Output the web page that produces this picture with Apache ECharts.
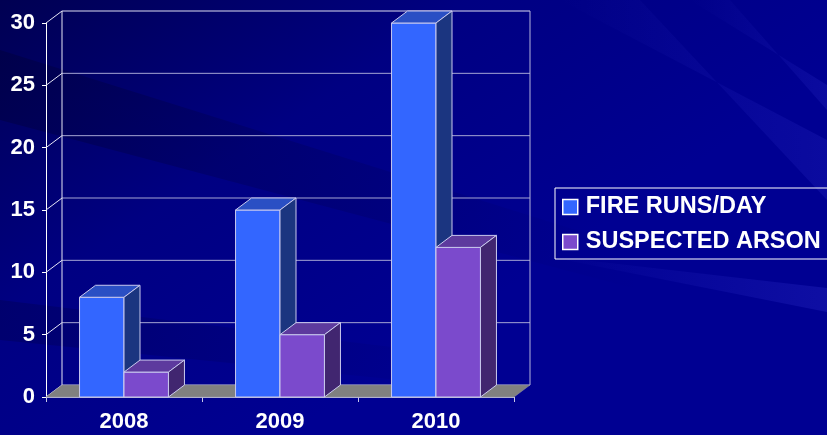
<!DOCTYPE html>
<html><head><meta charset="utf-8">
<script src="https://cdn.jsdelivr.net/npm/echarts@6/dist/echarts.min.js"></script>
<style>html,body{margin:0;padding:0;background:#00007a}#c{width:827px;height:435px}</style>
</head><body><div id="c"></div>
<script>
const categories = ['2008', '2009', '2010'];
const fireRuns = [8, 15, 30];
const arson = [2, 5, 12];
const yTicks = [0, 5, 10, 15, 20, 25, 30];
const seriesNames = ['FIRE RUNS/DAY', 'SUSPECTED ARSON'];

const DX = 16, DY = -12;
const FONT = "'Liberation Sans', Arial, sans-serif";
const faces = [
  { front: '#3366ff', top: '#2a4fc4', side: '#1b3580' },
  { front: '#7b4acc', top: '#5d3a9e', side: '#412670' }
];
const edge = '#c9c9ee';

function barRender(si) {
  return function (params, api) {
    const ci = api.value(0), v = api.value(1);
    const band = api.size([1, 0])[0];
    const w = band * 0.285;
    const c = api.coord([ci, v]);
    const b = api.coord([ci, 0]);
    const x0 = si === 0 ? c[0] - w : c[0];
    const x1 = x0 + w;
    const yt = c[1], yb = b[1];
    const f = faces[si];
    return { type: 'group', children: [
      { type: 'polygon', shape: { points: [[x0, yb], [x1, yb], [x1, yt], [x0, yt]] }, style: { fill: f.front, stroke: edge, lineWidth: 1 } },
      { type: 'polygon', shape: { points: [[x0, yt], [x1, yt], [x1 + DX, yt + DY], [x0 + DX, yt + DY]] }, style: { fill: f.top, stroke: edge, lineWidth: 1 } },
      { type: 'polygon', shape: { points: [[x1, yb], [x1 + DX, yb + DY], [x1 + DX, yt + DY], [x1, yt]] }, style: { fill: f.side, stroke: edge, lineWidth: 1 } }
    ] };
  };
}

function wallRender(params, api) {
  const v = api.value(1);
  const cs = params.coordSys;
  const xL = cs.x, xR = cs.x + cs.width;
  const y = api.coord([0, v])[1];
  const top = v === yTicks[yTicks.length - 1];
  return { type: 'group', children: [
    { type: 'line', shape: { x1: xL + DX, y1: y + DY, x2: xR + DX, y2: y + DY }, style: { stroke: top ? '#dcdcf2' : '#a4a4d4', lineWidth: 1 } },
    { type: 'line', shape: { x1: xL, y1: y, x2: xL + DX, y2: y + DY }, style: { stroke: '#e6e6f6', lineWidth: 1 } }
  ] };
}

function frameRender(params, api) {
  const cs = params.coordSys;
  const xL = cs.x, xR = cs.x + cs.width;
  const y0 = api.coord([0, yTicks[0]])[1];
  const yT = api.coord([0, yTicks[yTicks.length - 1]])[1];
  return { type: 'group', children: [
    { type: 'line', shape: { x1: xL + DX, y1: yT + DY, x2: xL + DX, y2: y0 + DY }, style: { stroke: '#e6e6f6', lineWidth: 1 } },
    { type: 'line', shape: { x1: xR + DX, y1: yT + DY, x2: xR + DX, y2: y0 + DY }, style: { stroke: '#b4b4dc', lineWidth: 1 } },
    { type: 'polygon', shape: { points: [[xL, y0], [xR, y0], [xR + DX, y0 + DY], [xL + DX, y0 + DY]] }, style: { fill: '#808080', stroke: '#9a9aa8', lineWidth: 0.5 } }
  ] };
}

const fadeR = (a) => new echarts.graphic.LinearGradient(0, 0, 1, 0, [
  { offset: 0, color: 'rgba(0,0,40,' + a + ')' }, { offset: 1, color: 'rgba(0,0,40,0)' }
]);
const fadeL = (a) => new echarts.graphic.LinearGradient(0, 0, 1, 0, [
  { offset: 0, color: 'rgba(90,90,255,0)' }, { offset: 1, color: 'rgba(90,90,255,' + a + ')' }
]);

const chart = echarts.init(document.getElementById('c'), null, { renderer: 'canvas' });
chart.setOption({
  backgroundColor: new echarts.graphic.LinearGradient(0, 0, 0.35, 1, [
    { offset: 0, color: '#000052' },
    { offset: 0.5, color: '#000082' },
    { offset: 1, color: '#000092' }
  ]),
  animation: false,
  graphic: [
    { type: 'polygon', z: -5, silent: true, shape: { points: [[0, 50], [0, 120], [640, 290], [640, 250]] }, style: { fill: fadeR(0.3) } },
    { type: 'polygon', z: -5, silent: true, shape: { points: [[0, 300], [0, 340], [500, 390], [500, 360]] }, style: { fill: fadeR(0.22) } },
    { type: 'polygon', z: -5, silent: true, shape: { points: [[560, 0], [640, 0], [827, 200], [827, 140]] }, style: { fill: fadeL(0.12) } },
    { type: 'polygon', z: -5, silent: true, shape: { points: [[690, 0], [730, 0], [827, 110], [827, 85]] }, style: { fill: fadeL(0.12) } },
    { type: 'polygon', z: -5, silent: true, shape: { points: [[540, 255], [827, 288], [827, 312]] }, style: { fill: fadeL(0.16) } }
  ],
  grid: { left: 46, right: 313, top: 23, bottom: 38 },
  legend: {
    orient: 'vertical',
    left: 555, top: 188,
    borderColor: '#ffffff', borderWidth: 1,
    padding: [5, 8, 3, 7],
    itemGap: 7,
    itemWidth: 15, itemHeight: 15,
    icon: 'rect',
    textStyle: { color: '#ffffff', fontFamily: FONT, fontWeight: 'bold', fontSize: 23.5, lineHeight: 28, padding: [0, 0, 0, 3] },
    data: [
      { name: seriesNames[0], itemStyle: { color: faces[0].front, borderColor: '#ffffff', borderWidth: 1.5 } },
      { name: seriesNames[1], itemStyle: { color: faces[1].front, borderColor: '#ffffff', borderWidth: 1.5 } }
    ]
  },
  xAxis: {
    type: 'category', data: categories,
    axisLine: { show: true, lineStyle: { color: '#b8b8dc', width: 1 } },
    axisTick: { show: true, length: 5, lineStyle: { color: '#c8c8e8' } },
    axisLabel: { color: '#ffffff', fontFamily: FONT, fontWeight: 'bold', fontSize: 22, margin: 14 },
    splitLine: { show: false }
  },
  yAxis: {
    type: 'value', min: 0, max: 30, interval: 5,
    axisLine: { show: true, lineStyle: { color: '#ffffff', width: 1 } },
    axisTick: { show: true, length: 4, lineStyle: { color: '#ffffff' } },
    axisLabel: { color: '#ffffff', fontFamily: FONT, fontWeight: 'bold', fontSize: 22, margin: 11 },
    splitLine: { show: false }
  },
  series: [
    { type: 'custom', name: 'walls', z: 1, silent: true, renderItem: wallRender, data: yTicks.map(v => [0, v]), encode: { x: 0, y: 1 } },
    { type: 'custom', name: 'frame', z: 2, silent: true, renderItem: frameRender, data: [[0, 0]], encode: { x: 0, y: 1 } },
    { type: 'custom', name: seriesNames[0], z: 3, renderItem: barRender(0), itemStyle: { color: faces[0].front }, data: fireRuns.map((v, i) => [i, v]), encode: { x: 0, y: 1 } },
    { type: 'custom', name: seriesNames[1], z: 4, renderItem: barRender(1), itemStyle: { color: faces[1].front }, data: arson.map((v, i) => [i, v]), encode: { x: 0, y: 1 } }
  ]
});
</script>
</body></html>
